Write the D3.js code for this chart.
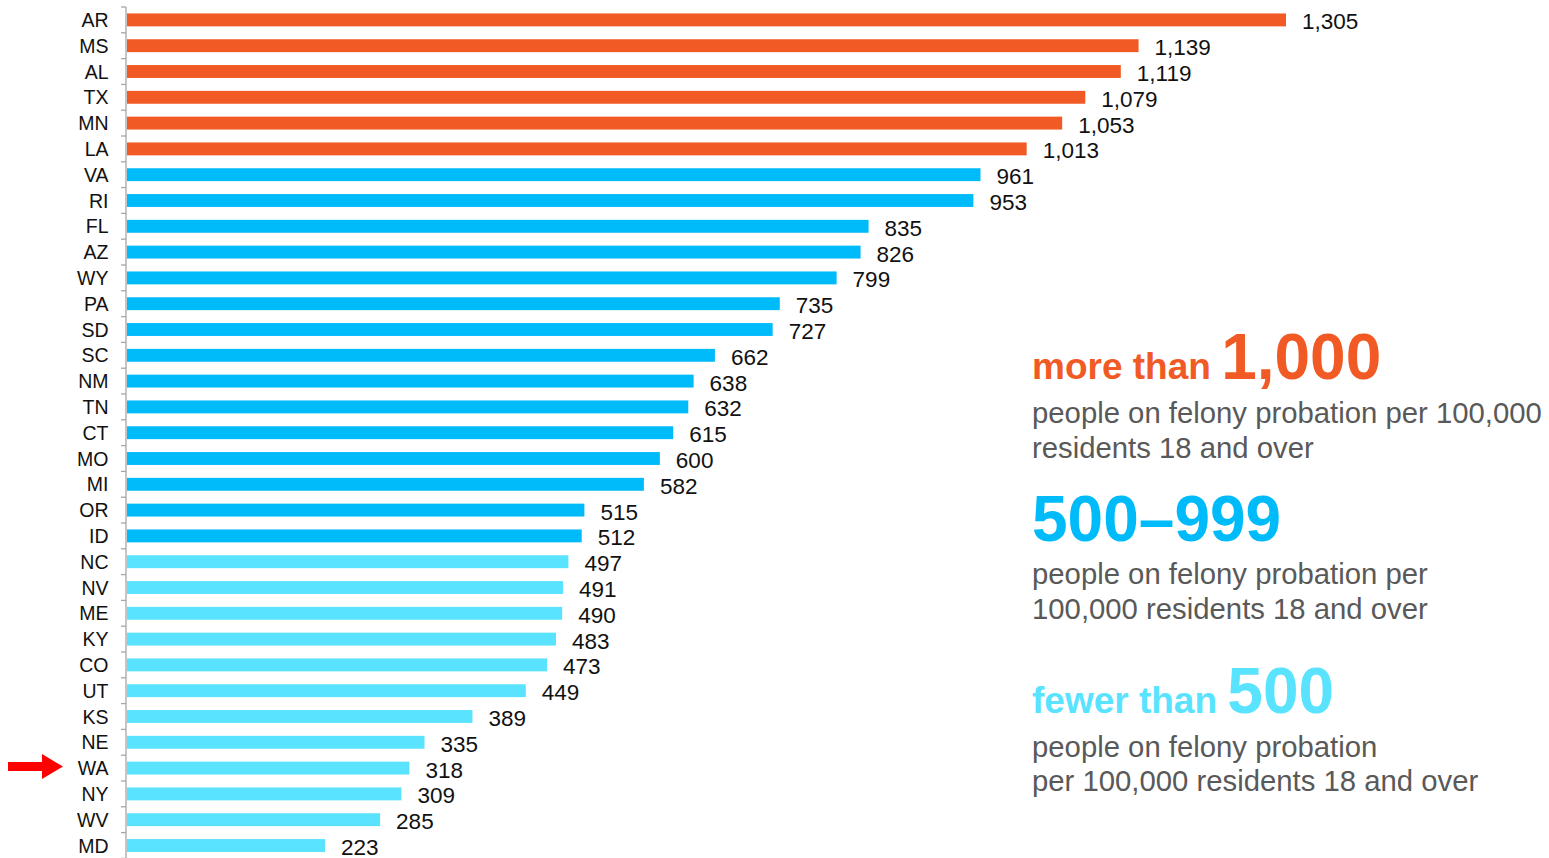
<!DOCTYPE html>
<html>
<head>
<meta charset="utf-8">
<script src="https://cdn.jsdelivr.net/npm/d3@7"></script>
<style>
  body { margin: 0; background: #fff; }
  svg { display: block; font-family: "Liberation Sans", Arial, sans-serif; }
</style>
</head>
<body>
<svg id="chart" width="1549" height="858"></svg>
<script>
'use strict'

// felony probation per 100,000 residents 18 and over
var states = ['AR','MS','AL','TX','MN','LA','VA','RI','FL','AZ','WY','PA','SD','SC','NM','TN','CT',
	'MO','MI','OR','ID','NC','NV','ME','KY','CO','UT','KS','NE','WA','NY','WV','MD'];
var rates = [1305,1139,1119,1079,1053,1013,961,953,835,826,799,735,727,662,638,632,615,
	600,582,515,512,497,491,490,483,473,449,389,335,318,309,285,223];
var highlight = 'WA';

// legend groups: break points and text
var breaks = [500, 1000];
var groupColors = ['#59E3FF', '#00BBF9', '#F15A24'];
var legendHeads = [
	{ small: 'more than ', big: '1,000', color: '#F15A24' },
	{ small: '', big: '500\u2013999', color: '#00BBF9' },
	{ small: 'fewer than ', big: '500', color: '#59E3FF' }
];
var legendLines = [
	['people on felony probation per 100,000', 'residents 18 and over'],
	['people on felony probation per', '100,000 residents 18 and over'],
	['people on felony probation', 'per 100,000 residents 18 and over']
];

var data = states.map(function(s, i){ return { state: s, value: rates[i] }; });

var svg = d3.select('#chart');

var x = d3.scaleLinear().domain([0, 1305]).range([127, 1286]);
var y = d3.scaleBand().domain(states).range([7, 858.4]).paddingInner(0.5).paddingOuter(0.25);
var color = d3.scaleThreshold().domain(breaks).range(groupColors);

// axis line with ticks between the categories
var gap = (y.step() - y.bandwidth()) / 2;
var tickPos = states.map(function(s){ return y(s) - gap; });
tickPos.push(y(states[states.length - 1]) + y.bandwidth() + gap);

var axis = svg.append('g').attr('stroke', '#a6a6a6').attr('stroke-width', 1.3);
axis.append('line')
	.attr('x1', 126).attr('x2', 126)
	.attr('y1', tickPos[0]).attr('y2', 858);
axis.selectAll('line.tick').data(tickPos).enter()
	.append('line').attr('class', 'tick')
	.attr('x1', 121).attr('x2', 126)
	.attr('y1', function(d){ return d; }).attr('y2', function(d){ return d; });

// bars
svg.append('g').selectAll('rect').data(data).enter()
	.append('rect')
	.attr('x', x(0))
	.attr('y', function(d){ return y(d.state); })
	.attr('width', function(d){ return x(d.value) - x(0); })
	.attr('height', y.bandwidth())
	.attr('fill', function(d){ return color(d.value); });

// state labels
svg.append('g').selectAll('text').data(data).enter()
	.append('text')
	.attr('x', 108.5)
	.attr('y', function(d){ return y(d.state) + y.bandwidth() / 2 + 7; })
	.attr('text-anchor', 'end')
	.attr('font-size', 19.5)
	.attr('fill', '#111')
	.text(function(d){ return d.state; });

// value labels
var fmt = d3.format(',');
svg.append('g').selectAll('text').data(data).enter()
	.append('text')
	.attr('x', function(d){ return x(d.value) + 16; })
	.attr('y', function(d){ return y(d.state) + y.bandwidth() / 2 + 9.5; })
	.attr('font-size', 22.5)
	.attr('fill', '#111')
	.text(function(d){ return fmt(d.value); });

// red arrow pointing at the highlighted state
var ay = y(highlight) + y.bandwidth() / 2 - 1.5;
svg.append('path')
	.attr('d', 'M8,' + (ay - 4.5) + 'H42V' + (ay - 12.5) + 'L63,' + ay + 'L42,' + (ay + 12.5) + 'V' + (ay + 4.5) + 'H8Z')
	.attr('fill', '#f00');

// legend
var headBase = [379, 541, 713];
var lineBase = [[423, 458], [584, 619], [757, 791]];

legendHeads.forEach(function(h, i){
	var t = svg.append('text')
		.attr('x', 1032).attr('y', headBase[i])
		.attr('fill', h.color)
		.attr('font-weight', 'bold');
	if(h.small){
		t.append('tspan').attr('font-size', 37).text(h.small);
	}
	t.append('tspan').attr('font-size', 64).text(h.big);

	svg.append('g').selectAll('text').data(legendLines[i]).enter()
		.append('text')
		.attr('x', 1032)
		.attr('y', function(d, j){ return lineBase[i][j]; })
		.attr('font-size', 29.3)
		.attr('fill', '#595959')
		.text(function(d){ return d; });
});
</script>
</body>
</html>
